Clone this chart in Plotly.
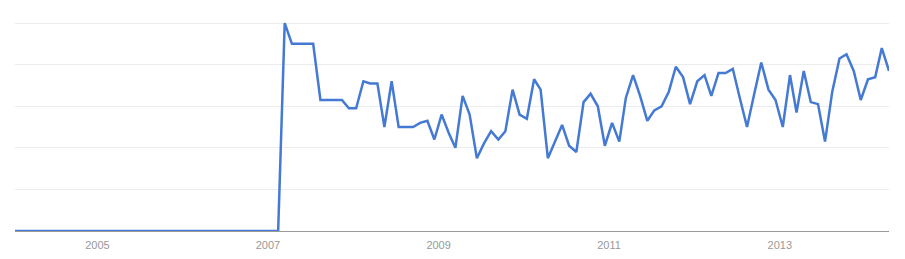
import pandas as pd
import plotly.graph_objects as go

# Monthly interest values, Jan 2004 .. Apr 2014
start_month = "2004-01-01"
values = [0] * 38 + [
    100, 90, 90, 90, 90, 63, 63, 63, 63, 59, 59, 72, 71, 71, 50, 72, 50, 50, 50, 52,
    53, 44, 56, 47, 40, 65, 56, 35, 42, 48, 44, 48, 68, 56, 54, 73, 68, 35, 43, 51,
    41, 38, 62, 66, 60, 41, 52, 43, 64, 75, 65, 53, 58, 60, 67, 79, 74, 61, 72, 75,
    65, 76, 76, 78, 64, 50, 66, 81, 68, 63, 50, 75, 57, 77, 62, 61, 43, 67, 83, 85,
    77, 63, 73, 74, 88, 77,
]
months = pd.date_range(start_month, periods=len(values), freq="MS")

tick_years = ["2005", "2007", "2009", "2011", "2013"]
tick_dates = [f"{y}-01-01" for y in tick_years]

fig = go.Figure()
fig.add_trace(go.Scatter(
    x=months, y=values, mode="lines",
    line=dict(color="#4479d4", width=2.5),
    hoverinfo="x+y",
))

fig.update_layout(
    width=905, height=259,
    margin=dict(l=15, r=16, t=21, b=28),
    paper_bgcolor="white", plot_bgcolor="white",
    showlegend=False,
    font=dict(family="Liberation Sans, Arial, sans-serif", size=11, color="#999999"),
)
fig.update_xaxes(
    range=[months[0], months[-1]],
    tickvals=tick_dates, ticktext=tick_years,
    showgrid=False, zeroline=False,
    showline=True, linecolor="#9a9a9a", linewidth=1,
    ticks="", tickfont=dict(size=11, color="#999999"),
    ticklabelshift=-3, ticklabelstandoff=4, automargin=False,
)
fig.update_yaxes(
    range=[0, 101], tickvals=[20, 40, 60, 80, 100],
    showticklabels=False, showgrid=True, gridcolor="#ececec", gridwidth=1,
    zeroline=False, showline=False, ticks="", automargin=False,
)

fig.write_html("out.html")
